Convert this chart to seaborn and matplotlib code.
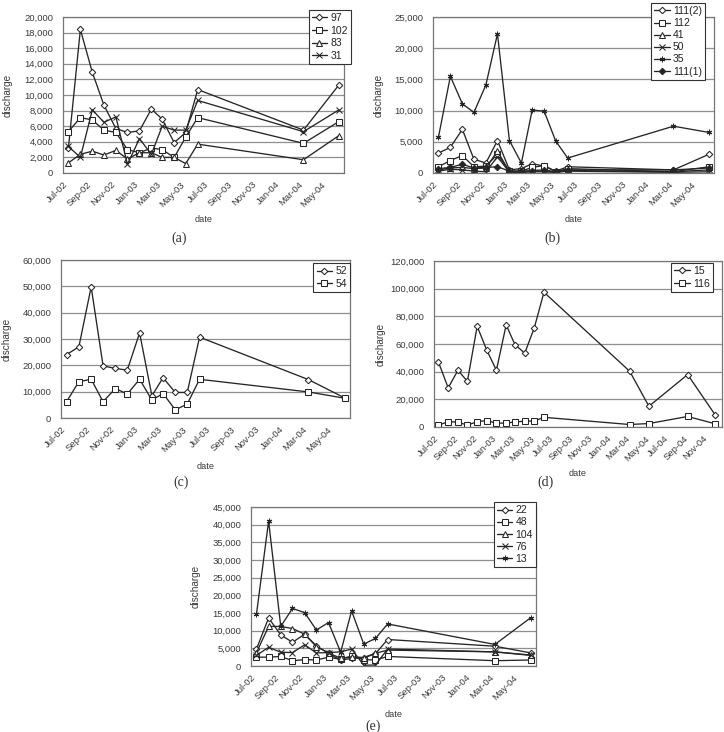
"""
Discharge time series, five stations groups (a)-(e)
Excel-style line charts with open markers, rebuilt with seaborn.
Output : out.png
"""

import pandas as pd
import matplotlib
matplotlib.use('Agg')
import matplotlib.pyplot as plt
import matplotlib.dates as mdates
from matplotlib.ticker import MultipleLocator, FuncFormatter
import seaborn as sns

# ── Sampling dates ────────────────────────────────────────────
dates_main = ['2002-07-15', '2002-08-15', '2002-09-15', '2002-10-15',
              '2002-11-15', '2002-12-15', '2003-01-15', '2003-02-15',
              '2003-03-15', '2003-04-15', '2003-05-15', '2003-06-15',
              '2004-03-15', '2004-06-15']
dates_d = ['2002-07-15', '2002-08-15', '2002-09-15', '2002-10-15',
           '2002-11-15', '2002-12-15', '2003-01-15', '2003-02-15',
           '2003-03-15', '2003-04-15', '2003-05-15', '2003-06-15',
           '2004-03-13', '2004-05-13', '2004-09-13', '2004-12-10']

# ── Panel (a) ─────────────────────────────────────────────────
a_labels = ['97', '102', '83', '31']
a_97  = [3200, 18400, 12900, 8700, 5700, 5200, 5400, 8200, 6900, 3900, 5200, 10700, 5500, 11300]
a_102 = [5300, 7100, 6800, 5500, 5200, 3000, 2600, 3200, 3000, 2000, 4600, 7100, 3800, 6600]
a_83  = [1300, 2400, 2800, 2300, 2900, 1800, 2600, 2600, 2000, 2000, 1200, 3700, 1700, 4800]
a_31  = [3400, 2000, 8100, 6500, 7200, 1100, 4400, 2400, 6000, 5500, 5500, 9300, 5300, 8100]

# ── Panel (b) ─────────────────────────────────────────────────
b_labels = ['111(2)', '112', '41', '50', '35', '111(1)']
b_111_2 = [3200, 4100, 7000, 2200, 1600, 5200, 500, 700, 1500, 1100, 300, 1000, 500, 3000]
b_112   = [1000, 2000, 2800, 1000, 1100, 3000, 300, 300, 900, 1200, 200, 700, 200, 1000]
b_41    = [500, 800, 900, 700, 800, 3500, 200, 100, 300, 300, 100, 400, 200, 500]
b_50    = [300, 600, 500, 300, 200, 2600, 100, 100, 200, 200, 100, 300, 100, 200]
b_35    = [5700, 15500, 11100, 9700, 14100, 22300, 5200, 1600, 10100, 9900, 5100, 2400, 7500, 6500]
b_111_1 = [700, 900, 1400, 800, 900, 1000, 300, 300, 400, 500, 200, 500, 500, 800]

# ── Panel (c) ─────────────────────────────────────────────────
c_labels = ['52', '54']
c_52 = [24100, 27000, 49800, 19800, 18800, 18200, 32300, 8400, 15300, 9700, 9700, 30700, 14600, 7600]
c_54 = [6200, 13800, 14700, 6200, 11200, 9100, 14700, 6800, 9300, 3100, 5300, 14700, 9900, 7500]

# ── Panel (d) ─────────────────────────────────────────────────
d_labels = ['15', '116']
d_15  = [47000, 28300, 41000, 33000, 72800, 55800, 41000, 73800, 59500, 53400, 71500, 97400,
         40300, 15000, 37900, 8500]
d_116 = [1200, 3900, 3500, 1300, 3900, 4600, 2800, 2800, 3700, 4200, 4300, 7000,
         1800, 2500, 7600, 2300]

# ── Panel (e) ─────────────────────────────────────────────────
e_labels = ['22', '48', '104', '76', '13']
e_22  = [4800, 13600, 8800, 6700, 9000, 5700, 3600, 1600, 2200, 2300, 3500, 7500, 5600, 3700]
e_48  = [2500, 2500, 2700, 1500, 1800, 1700, 2500, 1900, 2800, 1800, 1700, 2700, 1500, 1700]
e_104 = [3800, 11200, 11200, 10600, 9000, 5500, 3700, 2200, 2600, 2400, 3600, 4500, 4000, 3100]
e_76  = [3000, 5300, 3900, 3800, 6000, 3700, 3800, 4000, 4800, 200, 300, 4800, 4000, 3000]
e_13  = [14700, 41000, 11200, 16300, 15100, 10200, 12300, 3900, 15600, 6200, 7800, 11900, 6100, 13700]

# ── Style ─────────────────────────────────────────────────────
LINE = '#262626'
GRID = '#8f8f8f'
FRAME = '#777777'
TEXT = '#3a3a3a'
ASTER = (6, 2, 0)

MARKERS = {
    '97': 'D', '102': 's', '83': '^', '31': 'x',
    '111(2)': 'D', '112': 's', '41': '^', '50': 'x', '35': ASTER, '111(1)': 'D',
    '52': 'D', '54': 's', '15': 'D', '116': 's',
    '22': 'D', '48': 's', '104': '^', '76': 'x', '13': ASTER,
}
FILLED = {'111(1)'}

sns.set_style('white')
plt.rcParams['font.family'] = ['Liberation Sans', 'DejaVu Sans']

fig = plt.figure(figsize=(7.24, 7.32), dpi=100, facecolor='white')


def draw_panel(rect, dates, labels, series, ymax, ystep, xmax, anchor,
               ylab_x, xlab_y, spacing=0.25):
    ax = fig.add_axes(rect)
    x = pd.to_datetime(dates)
    for name, vals in zip(labels, series):
        m = MARKERS[name]
        ms = 3.3 if m == 'D' else 4.0
        sns.lineplot(x=x, y=vals, ax=ax, marker=m, color=LINE, linewidth=0.95,
                     markersize=ms, markerfacecolor=LINE if name in FILLED else 'white',
                     markeredgecolor=LINE, markeredgewidth=0.75, label=name)

    ax.set_ylim(0, ymax)
    ax.yaxis.set_major_locator(MultipleLocator(ystep))
    ax.yaxis.set_major_formatter(FuncFormatter(lambda v, p: f'{int(v):,}'))

    ticks = pd.date_range('2002-07-01', xmax, freq='2MS')
    ax.set_xlim(pd.Timestamp('2002-07-01'), pd.Timestamp(xmax))
    ax.set_xticks(mdates.date2num(ticks))
    ax.set_xticklabels([t.strftime('%b-%y') for t in ticks], rotation=45,
                       ha='right', rotation_mode='anchor')

    ax.yaxis.grid(True, color=GRID, linewidth=0.9)
    ax.xaxis.grid(False)
    for s in ax.spines.values():
        s.set_color(FRAME)
        s.set_linewidth(0.9)
    ax.tick_params(axis='x', direction='out', length=3, width=0.6, color=FRAME,
                   labelsize=6.8, labelcolor=TEXT, pad=2)
    ax.tick_params(axis='y', length=0, labelsize=6.8, labelcolor=TEXT, pad=7)

    ax.set_ylabel('discharge', fontsize=7.2, color=TEXT)
    ax.yaxis.set_label_coords(-ylab_x, 0.5)
    ax.set_xlabel('date', fontsize=6.6, color=TEXT)
    ax.xaxis.set_label_coords(0.5, xlab_y)

    leg = ax.legend(loc='upper right', bbox_to_anchor=anchor, borderaxespad=0,
                    frameon=True, fancybox=False, framealpha=1, edgecolor='#333',
                    fontsize=7.5, handlelength=1.5, handletextpad=0.3,
                    borderpad=0.3, labelspacing=spacing)
    leg.get_frame().set_linewidth(0.8)
    for t in leg.get_texts():
        t.set_color('#222')
    return ax


W = 724.0
H = 732.0


def rect(l, t, r, b):
    return [l / W, 1 - b / H, (r - l) / W, (b - t) / H]


draw_panel(rect(63, 17, 344, 173), dates_main, a_labels, [a_97, a_102, a_83, a_31],
           20000, 2000, '2004-06-28', (1.025, 1.045), 0.178, -0.27)
draw_panel(rect(433, 17, 714, 173), dates_main, b_labels,
           [b_111_2, b_112, b_41, b_50, b_35, b_111_1],
           25000, 5000, '2004-06-28', (0.968, 1.09), 0.174, -0.27, spacing=0.2)
draw_panel(rect(61, 260, 350, 418), dates_main, c_labels, [c_52, c_54],
           60000, 10000, '2004-06-28', (1.0, 0.98), 0.17, -0.28)
draw_panel(rect(434, 261, 722, 427), dates_d, d_labels, [d_15, d_116],
           120000, 20000, '2004-12-31', (0.968, 0.988), 0.169, -0.25)
draw_panel(rect(251, 507, 536, 666), dates_main, e_labels,
           [e_22, e_48, e_104, e_76, e_13],
           45000, 5000, '2004-06-28', (1.0, 1.03), 0.175, -0.277, spacing=0.2)

for lab, px, py in [('(a)', 179, 238), ('(b)', 552, 238), ('(c)', 181, 482),
                    ('(d)', 546, 482), ('(e)', 373, 726)]:
    fig.text(px / W, 1 - py / H, lab, ha='center', va='center', fontsize=10,
             color='#333', family=['Liberation Serif', 'DejaVu Serif'])

plt.savefig('out.png', dpi=100, facecolor='white')
print("Saved → out.png")
